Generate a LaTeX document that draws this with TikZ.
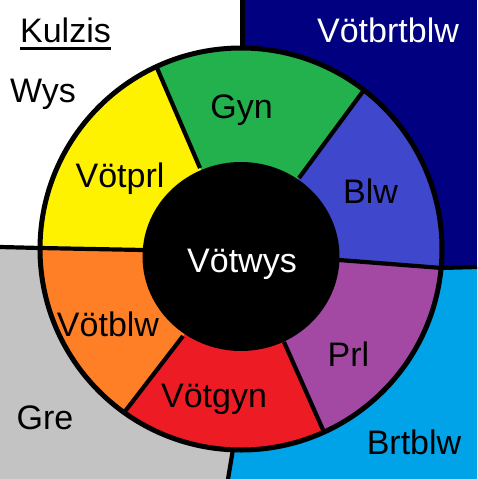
\documentclass[tikz,border=0pt]{standalone}
\usepackage{fontspec}
\setmainfont{Liberation Sans}
\definecolor{pyellow}{HTML}{FFF200}
\definecolor{pgreen}{HTML}{22B14C}
\definecolor{pblue}{HTML}{3F48CC}
\definecolor{ppurple}{HTML}{A349A4}
\definecolor{pred}{HTML}{ED1C24}
\definecolor{porange}{HTML}{FF7F27}
\definecolor{navybg}{HTML}{000080}
\definecolor{skybg}{HTML}{00A2E8}
\definecolor{graybg}{HTML}{C3C3C3}
\begin{document}
\begin{tikzpicture}[x=1pt,y=-1pt,
  lbl/.style={inner sep=0pt, anchor=base, font=\fontsize{34}{40}\selectfont},
  edge/.style={line width=4.2pt, black}]
\useasboundingbox (0,0) rectangle (477,479);
\fill[white] (0,0) rectangle (477,479);
% centres
\coordinate (C) at (241,256);
\coordinate (O) at (241,249);
% spokes: inner point, outer point, extended point
\coordinate (i1) at (200,168); \coordinate (o1) at (157,68);  \coordinate (e1) at (117.5,-23.8);
\coordinate (i2) at (299,178); \coordinate (o2) at (364,90);  \coordinate (e2) at (423.4,9.6);
\coordinate (i3) at (339,260); \coordinate (o3) at (442,268); \coordinate (e3) at (541.7,275.7);
\coordinate (i4) at (284,342); \coordinate (o4) at (324,432); \coordinate (e4) at (364.6,523.4);
\coordinate (i5) at (183,336); \coordinate (o5) at (123,414); \coordinate (e5) at (62,493.3);
\coordinate (i6) at (143,250); \coordinate (o6) at (40,248);  \coordinate (e6) at (-60,246);
% backgrounds
\fill[navybg] (242.5,0) rectangle (477,267);
\fill[skybg] (241,267) -- (477,267) -- (477,479) -- (228,479) -- (233,452) -- (241,300) -- cycle;
\fill[graybg] (0,247) -- (143,250) -- (241,256) -- (233,452) -- (228,479) -- (0,479) -- cycle;
% boundary lines
\coordinate (b1a) at (242.5,0);   \coordinate (b1b) at (242.5,50);
\coordinate (b2a) at (440,268);   \coordinate (b2b) at (477,267);
\coordinate (b3a) at (233,449);   \coordinate (b3b) at (228,479);
\coordinate (b4a) at (0,247);
\draw[edge] (b1a) -- (b1b);
\draw[edge] (b2a) -- (b2b);
\draw[edge] (b3a) -- (b3b);
\draw[edge] (b4a) -- (o6);
% sectors
\begin{scope}
\clip (O) circle[radius=201pt];
\fill[pgreen]  (C) -- (i1) -- (e1) -- (e2) -- (i2) -- cycle;
\fill[pblue]   (C) -- (i2) -- (e2) -- (e3) -- (i3) -- cycle;
\fill[ppurple] (C) -- (i3) -- (e3) -- (e4) -- (i4) -- cycle;
\fill[pred]    (C) -- (i4) -- (e4) -- (e5) -- (i5) -- cycle;
\fill[porange] (C) -- (i5) -- (e5) -- (e6) -- (i6) -- cycle;
\fill[pyellow] (C) -- (i6) -- (e6) -- (e1) -- (i1) -- cycle;
\end{scope}
\foreach \k in {1,...,6} \draw[edge] (i\k) -- (o\k);
\fill[black] (241,256.5) ellipse[x radius=98.5pt, y radius=94.5pt];
\draw[line width=5pt] (O) circle[radius=201pt];
% labels
\node[lbl] (kulzis) at (65.5,42) {Kulzis};
\coordinate (ula) at (20,48.3); \coordinate (ulb) at (111,48.3);
\draw[line width=3pt] (ula) -- (ulb);
\node[lbl] (wys) at (43,102) {Wys};
\node[lbl] (votprl) at (120,187) {Vötprl};
\node[lbl] (gyn) at (241.5,118.5) {Gyn};
\node[lbl, text=white] (votbrtblw) at (388,42) {Vötbrtblw};
\node[lbl] (blw) at (370.5,203) {Blw};
\node[lbl, text=white] (votwys) at (242,272.5) {Vötwys};
\node[lbl] (votblw) at (108,336) {Vötblw};
\node[lbl] (votgyn) at (214,407) {Vötgyn};
\node[lbl] (prl) at (348.5,366) {Prl};
\node[lbl] (gre) at (45,429) {Gre};
\node[lbl] (brtblw) at (414,454) {Brtblw};
\end{tikzpicture}
\end{document}
